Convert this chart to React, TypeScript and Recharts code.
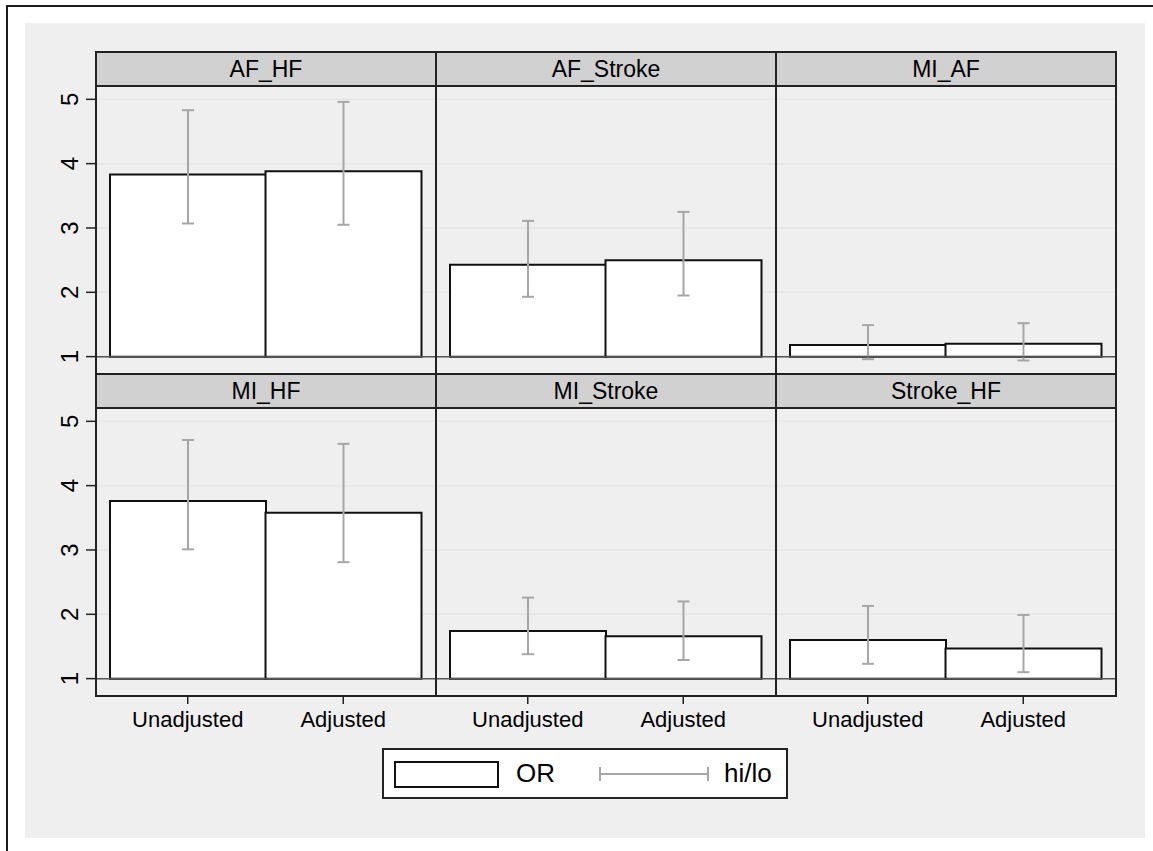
import { ComposedChart, Bar, XAxis, YAxis, CartesianGrid, ReferenceLine } from "recharts";

const categories = ["Unadjusted", "Adjusted"];
const panelNames = ["AF_HF", "AF_Stroke", "MI_AF", "MI_HF", "MI_Stroke", "Stroke_HF"];
const orValues = [
  [3.83, 3.88],
  [2.43, 2.5],
  [1.18, 1.2],
  [3.76, 3.58],
  [1.74, 1.66],
  [1.6, 1.47],
];
const hiValues = [
  [4.83, 4.96],
  [3.11, 3.25],
  [1.49, 1.52],
  [4.71, 4.65],
  [2.26, 2.2],
  [2.13, 1.99],
];
const loValues = [
  [3.07, 3.05],
  [1.93, 1.95],
  [0.96, 0.94],
  [3.01, 2.81],
  [1.38, 1.29],
  [1.23, 1.1],
];
const yTicks = [1, 2, 3, 4, 5];

const FONT = '"Liberation Sans", Arial, Helvetica, sans-serif';
const DARK = "#222";
const WHISKER = "#a6a6a6";

const PANEL_W = 340;
const HEADER_H = 34;
const PLOT_H = 288;
const ROW_STEP = HEADER_H + PLOT_H;
const LEFT = 96;
const TOP = 52;
const Y_AXIS_W = 70;
const X_AXIS_H = 50;

const Whisker = (props: any) => {
  const { x, y, width, height } = props;
  const cx = x + width / 2;
  return (
    <g stroke={WHISKER} strokeWidth={2}>
      <line x1={cx} x2={cx} y1={y} y2={y + height} />
      <line x1={cx - 6} x2={cx + 6} y1={y} y2={y} />
      <line x1={cx - 6} x2={cx + 6} y1={y + height} y2={y + height} />
    </g>
  );
};

const YTick = (props: any) => {
  const { x, y, payload } = props;
  return (
    <g transform={`translate(${x - 6},${y})`}>
      <text transform="rotate(-90)" textAnchor="middle" fontSize={24} fill="#000" fontFamily={FONT}>
        {payload.value}
      </text>
    </g>
  );
};

function Panel({ index }: { index: number }) {
  const col = index % 3;
  const row = Math.floor(index / 3);
  const data = categories.map((c, i) => ({
    name: c,
    or: orValues[index][i],
    hi: hiValues[index][i],
    lo: loValues[index][i],
  }));
  const showY = col === 0;
  const showX = row === 1;
  const x0 = LEFT + col * PANEL_W;
  const headerTop = TOP + row * ROW_STEP;
  const plotTop = headerTop + HEADER_H;
  const chartW = PANEL_W + (showY ? Y_AXIS_W : 0);
  const chartH = PLOT_H + (showX ? X_AXIS_H : 0);

  return (
    <>
      <div
        style={{
          position: "absolute",
          left: x0 - (showY ? Y_AXIS_W : 0),
          top: plotTop,
          width: chartW,
          height: chartH,
        }}
      >
        <ComposedChart
          width={chartW}
          height={chartH}
          data={data}
          margin={{ top: 0, right: 0, bottom: 0, left: 0 }}
          barCategoryGap={0}
          barGap={0}
        >
          <CartesianGrid vertical={false} stroke="#e6e6e6" strokeWidth={1.5} />
          <XAxis
            dataKey="name"
            hide={!showX}
            height={X_AXIS_H}
            padding={{ left: 14, right: 15 }}
            axisLine={false}
            tickSize={8}
            tickMargin={7}
            tickLine={{ stroke: DARK, strokeWidth: 1.5 }}
            tick={{ fontSize: 22, fill: "#000", fontFamily: FONT }}
          />
          <XAxis xAxisId="w" dataKey="name" hide padding={{ left: 14, right: 15 }} />
          <YAxis
            hide={!showY}
            width={Y_AXIS_W}
            domain={[0.73, 5.207]}
            allowDataOverflow
            ticks={yTicks}
            axisLine={false}
            tickSize={10}
            tickLine={{ stroke: DARK, strokeWidth: 1.5 }}
            tick={<YTick />}
          />
          <ReferenceLine y={1} stroke="#555" strokeWidth={1.5} />
          <Bar
            dataKey={(d: any) => [1, d.or]}
            fill="#fff"
            stroke="#111"
            strokeWidth={2}
            isAnimationActive={false}
          />
          <Bar
            xAxisId="w"
            dataKey={(d: any) => [d.lo, d.hi]}
            shape={<Whisker />}
            isAnimationActive={false}
          />
        </ComposedChart>
      </div>
      <div
        style={{
          position: "absolute",
          left: x0 - 1,
          top: headerTop - 1,
          width: PANEL_W + 2,
          height: HEADER_H + 2,
          boxSizing: "border-box",
          border: `2px solid ${DARK}`,
          background: "#d1d1d1",
          display: "flex",
          alignItems: "center",
          justifyContent: "center",
          fontSize: 23,
          color: "#000",
          fontFamily: FONT,
        }}
      >
        {panelNames[index]}
      </div>
      <div
        style={{
          position: "absolute",
          left: x0 - 1,
          top: plotTop - 1,
          width: PANEL_W + 2,
          height: PLOT_H + 2,
          boxSizing: "border-box",
          border: `2px solid ${DARK}`,
          pointerEvents: "none",
        }}
      />
    </>
  );
}

export default function App() {
  return (
    <div
      style={{
        position: "absolute",
        left: 0,
        top: 0,
        width: 1153,
        height: 851,
        overflow: "hidden",
        background: "#fff",
        fontFamily: FONT,
      }}
    >
      <div
        style={{
          position: "absolute",
          left: 6,
          top: 5,
          width: 1300,
          height: 1000,
          border: "2px solid #1c1c1c",
        }}
      />
      <div style={{ position: "absolute", left: 25, top: 23, width: 1120, height: 815, background: "#efefef" }} />
      {panelNames.map((_, i) => (
        <Panel key={i} index={i} />
      ))}
      <div
        style={{
          position: "absolute",
          left: 382,
          top: 748,
          width: 406,
          height: 51,
          boxSizing: "border-box",
          border: `2px solid ${DARK}`,
          background: "#fff",
        }}
      >
        <div
          style={{
            position: "absolute",
            left: 10,
            top: 11,
            width: 105,
            height: 27,
            boxSizing: "border-box",
            border: "2px solid #111",
          }}
        />
        <div style={{ position: "absolute", left: 132, top: 8, fontSize: 26, color: "#000", lineHeight: "30px" }}>OR</div>
        <svg style={{ position: "absolute", left: 214, top: 16 }} width={112} height={16}>
          <g stroke={WHISKER} strokeWidth={2}>
            <line x1={2} x2={110} y1={8} y2={8} />
            <line x1={2} x2={2} y1={1} y2={15} />
            <line x1={110} x2={110} y1={1} y2={15} />
          </g>
        </svg>
        <div style={{ position: "absolute", left: 340, top: 8, fontSize: 26, color: "#000", lineHeight: "30px" }}>hi/lo</div>
      </div>
    </div>
  );
}
